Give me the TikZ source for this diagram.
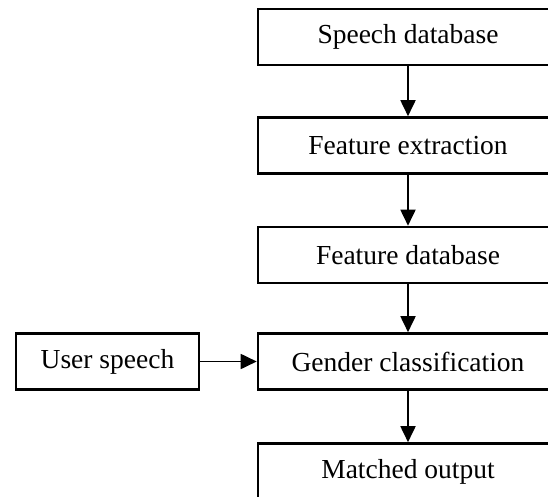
\documentclass[tikz,border=0pt]{standalone}
\usepackage{fontspec}
\setmainfont{Liberation Serif}
\usetikzlibrary{arrows.meta}
\begin{document}
\begin{tikzpicture}[x=1pt,y=-1pt,
  box/.style={draw=black, line width=2.6pt, minimum width=300pt, minimum height=56pt,
    inner sep=0pt, font=\fontsize{27.5}{30}\selectfont, text=black},
  ubox/.style={box, minimum width=183pt},
  conn/.style={line width=1.8pt, -{Triangle[length=16pt,width=15pt]}}]
\useasboundingbox (0,0) rectangle (548,497);
\clip (0,0) rectangle (548,497);
\fill[white] (0,0) rectangle (548,497);
\node[box] (sd) at (408,37) {Speech database};
\node[box] (fe) at (408,145.5) {Feature extraction};
\node[box] (fd) at (408,255) {Feature database};
\node[box] (gc) at (408,361.5) {Gender classification};
\node[box] (mo) at (408,471.5) {Matched output};
\node[ubox] (us) at (107.5,361.5) {User speech};
\draw[conn] (sd) -- (fe);
\draw[conn] (fe) -- (fd);
\draw[conn] (fd) -- (gc);
\draw[conn] (gc) -- (mo);
\draw[conn] (us) -- (gc);
\end{tikzpicture}
\end{document}
